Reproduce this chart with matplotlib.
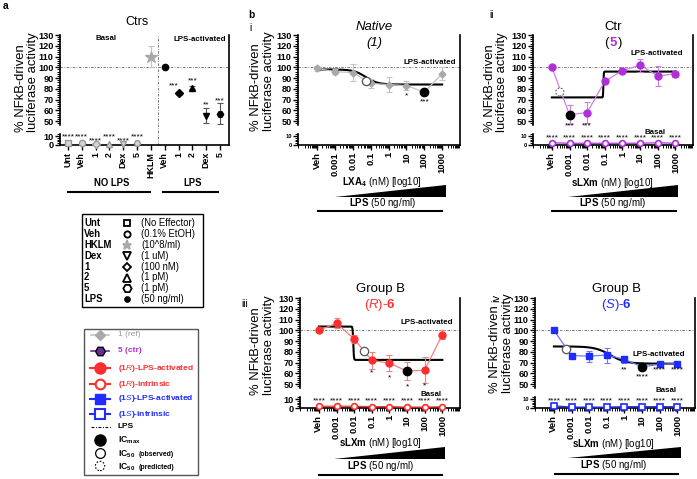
import numpy as np
import matplotlib
matplotlib.use('Agg')
import matplotlib.pyplot as plt
import matplotlib.transforms as mtrans
from matplotlib.lines import Line2D
from matplotlib.patches import Rectangle, Polygon
from matplotlib.ticker import FixedLocator, NullFormatter, LogLocator
from matplotlib import font_manager

_names = {f.name for f in font_manager.fontManager.ttflist}
if 'Liberation Sans Narrow' in _names:
    HF, HS = 'Liberation Sans Narrow', 1.0
else:
    HF, HS = 'Liberation Sans', 0.86
RF = 'Liberation Sans'
plt.rcParams['font.family'] = [HF, 'DejaVu Sans']
plt.rcParams['mathtext.fontset'] = 'custom'
plt.rcParams['mathtext.rm'] = HF
plt.rcParams['mathtext.it'] = HF + ':italic'
plt.rcParams['mathtext.bf'] = HF + ':bold'

# ---------------- DATA ----------------
a_labels = ['Unt', 'Veh', '1', '2', 'Dex', '5', 'HKLM', 'Veh', '1', '2', 'Dex', '5']
a_basal_values = [2.0, 2.5, 1.5, 1.5, 1.5, 2.0]
a_basal_markers = ['s', 'o', 'D', '^', 'v', 'H']
a_basal_star_y = [9, 9.5, 5, 9, 5, 9]
a_hklm_value = 110
a_hklm_error = 10
a_lps_values = [100, 76, 81, 55, 57]
a_lps_errors = [0, 1.5, 1.5, 7, 10]
a_lps_markers = ['o', 'D', '^', 'v', 'H']
a_lps_stars = ['', '***', '***', '**', '***']
a_lps_star_y = [0, 83, 87, 65, 69]

conc_labels = ['Veh', '0.001', '0.01', '0.1', '1', '10', '100', '1000']
conc_values = [1e-4, 1e-3, 1e-2, 1e-1, 1, 10, 100, 1000]

i_lps = [99, 96, 95, 85, 84, 83, 77, 94]
i_lps_err = [2, 2, 8, 4, 7, 4, 0, 6]
i_stars = ['', '', '', '', '', '*', '***', '']
i_star_y = [0, 0, 0, 0, 0, 73, 68, 0]

ii_lps = [100, 56, 58, 87, 97, 102, 92, 94]
ii_lps_err = [0, 9, 10, 0, 2.5, 6, 9, 3]
ii_basal = [2.5, 2, 2, 2, 2, 2, 2.5, 2]
ii_stars = ['', '***', '***', '', '', '', '', '']
ii_star_y = [0, 46, 46, 0, 0, 0, 0, 0]

iii_lps = [100, 106.5, 92, 72, 69.5, 62, 63, 96]
iii_lps_err = [0, 4.5, 4, 8, 7.5, 8.5, 12, 4.5]
iii_basal = [2, 2, 2, 1.5, 1.5, 1, 1, 1.5]
iii_stars = ['', '', '', '*', '*', '*', '*', '']
iii_star_y = [0, 0, 0, 60, 56, 47, 48, 0]

iv_lps = [100, 76.5, 76, 77, 73, 66, 68.5, 69]
iv_lps_err = [0, 1.5, 5, 7, 3, 1.5, 1, 1]
iv_basal = [2.5, 1, 1, 1, 1.5, 1.5, 1.5, 1.5]
iv_stars = ['', '', '', '', '**', '****', '****', '****']
iv_star_y = [0, 0, 0, 0, 63, 57, 63, 63]

basal_star_label = '****'
basal_star_y = 8

# fitted dose-response curves for panels i, ii, iii, iv
fit_value_low_conc = [98, 72, 103.5, 85]
fit_value_high_conc = [84, 96, 72.5, 69]
fit_log_ic50 = [-1.28, -1.08, -2.05, -0.8]
fit_hill = [1.3, 40, 25, 1.0]

# IC markers for panels i, ii, iii, iv
icmax_x = [100, 1e-3, 10, 10]
icmax_y = [77, 56, 62, 66]
ic50_obs_x = [10 ** -1.28, 10 ** -1.45, 10 ** -3.33]   # panels i, iii, iv
ic50_obs_y = [87, 81, 83]
ic50_pred_x = [10 ** -3.55]                          # panel ii
ic50_pred_y = [77]

GRAY = '#A9A9A9'
GRAY_L = '#C4C4C4'
PURPLE = '#B12FD9'
PURPLE_L = '#CF80E8'
RED = '#FF2E2E'
RED_L = '#F48080'
BLUE = '#1F2BFF'
BLUE_L = '#6E78FF'

# ---------------- FIGURE ----------------
W, H = 697, 479
fig = plt.figure(figsize=(W / 100, H / 100), dpi=100)


def rect(l, r, top, bot):
    return [l / W, 1 - bot / H, (r - l) / W, (bot - top) / H]


BX = np.array([-100.0, 0.0, 13.0, 46.0, 130.0, 400.0])
BY = np.array([-90.0, 0.0, 11.7, 20.0, 112.4, 409.4])


def fwd(y):
    return np.interp(y, BX, BY)


def inv(y):
    return np.interp(y, BY, BX)


def broken_y(ax, small_low=False):
    ax.set_yscale('function', functions=(fwd, inv))
    for s in ['top', 'left']:
        ax.spines[s].set_visible(False)
    for s in ['bottom', 'right']:
        ax.spines[s].set_linewidth(1.2)
    majors = [0, 10] + list(range(50, 131, 10))
    minors = [2, 4, 6, 8, 12] + [v for v in range(48, 131, 2) if v % 10]
    ax.yaxis.set_major_locator(FixedLocator(majors))
    ax.yaxis.set_minor_locator(FixedLocator(minors))
    ax.set_yticklabels([str(v) for v in majors], fontweight='bold', fontsize=7.6 * HS)
    if small_low:
        for lab in ax.get_yticklabels()[:2]:
            lab.set_fontsize(4.8 * HS)
    ax.tick_params(axis='y', which='major', length=3.5, width=1.0, pad=1)
    ax.tick_params(axis='y', which='minor', length=2, width=0.7)
    tr = mtrans.blended_transform_factory(ax.transAxes, ax.transData)
    for seg in ([0, 13], [46, 130]):
        ax.add_line(Line2D([0, 0], seg, transform=tr, color='k', lw=1.2, clip_on=False))
    ax.axhline(100, color='#777777', lw=0.7, ls=(0, (2.5, 1.5, 0.8, 1.5)), zorder=1)
    ax.set_ylim(0, 130)


def conc_x(ax):
    ax.set_xscale('log')
    ax.set_xticks(conc_values)
    ax.set_xticklabels(conc_labels, rotation=90, fontweight='bold', fontsize=6.8,
                       family=[RF, 'DejaVu Sans'])
    ax.xaxis.set_minor_locator(LogLocator(base=10, subs=np.arange(2, 10), numticks=50))
    ax.xaxis.set_minor_formatter(NullFormatter())
    ax.tick_params(axis='x', which='major', length=3.5, width=1.0, pad=1.5)
    ax.tick_params(axis='x', which='minor', length=2, width=0.7)
    ax.set_xlim(10 ** -5.07, 10 ** 4.0)


def star_texts(ax, labels, ys, size=7):
    for x, s, y in zip(conc_values, labels, ys):
        if s:
            ax.text(x, y, s, ha='center', va='center', fontsize=size * HS, zorder=6)


def fit_curve(ax, k):
    xs = np.logspace(np.log10(conc_values[0]), np.log10(conc_values[-1]), 800)
    lx = np.log10(xs)
    ys = fit_value_high_conc[k] + (fit_value_low_conc[k] - fit_value_high_conc[k]) / (
        1 + 10 ** ((lx - fit_log_ic50[k]) * fit_hill[k]))
    ax.plot(xs, ys, color='k', lw=1.5, zorder=2.5)


def icmax(ax, k):
    ax.plot(icmax_x[k], icmax_y[k], 'o', ms=6, color='k', zorder=5)


def ic50_obs(ax, k):
    ax.plot(ic50_obs_x[k], ic50_obs_y[k], 'o', ms=6, mfc='white', mec='#555555', mew=0.9, zorder=5)


eb_kw = dict(capsize=2.5, capthick=0.8, elinewidth=0.8, clip_on=False)

# ---------- Panel a ----------
axa = fig.add_axes(rect(60, 229, 35, 145))
broken_y(axa)
axa.set_xticks(range(len(a_labels)))
axa.set_xticklabels(a_labels, rotation=90, fontweight='bold', fontsize=6.4, family=[RF, 'DejaVu Sans'])
axa.tick_params(axis='x', which='major', length=3.5, width=1.0, pad=1.5)
axa.axvline(6.5, color='#777777', lw=0.7, ls=(0, (2.5, 1.5, 0.8, 1.5)), zorder=1)
for k in range(6):
    axa.plot(k, a_basal_values[k], marker=a_basal_markers[k], ms=4.5, mfc='#D6D6D6', mec='#999999',
             mew=1, ls='none', clip_on=False, zorder=4)
    axa.text(k, a_basal_star_y[k], basal_star_label, ha='center', va='center', fontsize=7 * HS)
axa.errorbar(6, a_hklm_value, yerr=a_hklm_error, marker='*', ms=9, color=GRAY_L, mfc=GRAY, mec=GRAY, **eb_kw)
for k in range(5):
    axa.errorbar(7 + k, a_lps_values[k], yerr=a_lps_errors[k], marker=a_lps_markers[k], ms=4.5,
                 color='k', ecolor='#555555', **eb_kw)
    if a_lps_stars[k]:
        axa.text(7 + k - (0.35 if k == 1 else 0), a_lps_star_y[k], a_lps_stars[k], ha='center',
                 va='center', fontsize=7 * HS)
axa.set_xlim(-0.58, 11.65)

# ---------- Panel i ----------
axi = fig.add_axes(rect(298, 460, 35, 145))
broken_y(axi, small_low=True)
conc_x(axi)
axi.errorbar(conc_values, i_lps, yerr=i_lps_err, color=GRAY_L, marker='D', ms=3.5, mfc=GRAY, mec=GRAY,
             lw=0.9, zorder=3, **eb_kw)
fit_curve(axi, 0)
icmax(axi, 0)
ic50_obs(axi, 0)
star_texts(axi, i_stars, i_star_y)

# ---------- Panel ii ----------
axii = fig.add_axes(rect(533, 693, 35, 145))
broken_y(axii, small_low=True)
conc_x(axii)
axii.errorbar(conc_values, ii_lps, yerr=ii_lps_err, color=PURPLE_L, marker='o', ms=5, mfc=PURPLE,
              mec=PURPLE, lw=0.9, zorder=3, **eb_kw)
axii.plot(conc_values, ii_basal, color=PURPLE, marker='o', ms=4.2, mfc='white', mec=PURPLE, mew=1.2,
          lw=0.9, clip_on=False, zorder=3)
fit_curve(axii, 1)
icmax(axii, 1)
axii.scatter(ic50_pred_x, ic50_pred_y, s=34, facecolor='white', edgecolor='#555555', linewidths=0.8,
             linestyle=(0, (1.5, 1.5)), zorder=5)
star_texts(axii, ii_stars, ii_star_y)
star_texts(axii, [basal_star_label] * 8, [basal_star_y] * 8)

# ---------- Panel iii ----------
axiii = fig.add_axes(rect(300, 460, 298, 408))
broken_y(axiii)
conc_x(axiii)
axiii.errorbar(conc_values, iii_lps, yerr=iii_lps_err, color=RED_L, marker='o', ms=5, mfc=RED,
               mec=RED, lw=0.9, zorder=3, **eb_kw)
axiii.plot(conc_values, iii_basal, color=RED, marker='o', ms=4.2, mfc='white', mec=RED, mew=1.2,
           lw=0.9, clip_on=False, zorder=3)
fit_curve(axiii, 2)
icmax(axiii, 2)
ic50_obs(axiii, 1)
star_texts(axiii, iii_stars, iii_star_y)
star_texts(axiii, [basal_star_label] * 8, [basal_star_y] * 8)

# ---------- Panel iv ----------
axiv = fig.add_axes(rect(535, 695, 298, 408))
broken_y(axiv, small_low=True)
conc_x(axiv)
axiv.errorbar(conc_values, iv_lps, yerr=iv_lps_err, color=BLUE_L, marker='s', ms=4.6, mfc=BLUE,
              mec=BLUE, lw=0.9, zorder=3, **eb_kw)
axiv.plot(conc_values, iv_basal, color=BLUE, marker='s', ms=4.2, mfc='white', mec=BLUE, mew=1.2,
          lw=0.9, clip_on=False, zorder=3)
fit_curve(axiv, 3)
icmax(axiv, 3)
ic50_obs(axiv, 2)
star_texts(axiv, iv_stars, iv_star_y)
star_texts(axiv, [basal_star_label] * 8, [basal_star_y] * 8)

# ---------- overlay (annotations, legends) ----------
ov = fig.add_axes([0, 0, 1, 1], zorder=10)
ov.set_xlim(0, W)
ov.set_ylim(H, 0)
ov.axis('off')
ov.patch.set_alpha(0)


def T(x, y, s, size, weight='normal', color='k', style='normal', ha='center', va='center', rot=0,
      fam=None):
    f = fam if fam else HF
    sc = 1.0 if fam else HS
    ov.text(x, y, s, fontsize=size * sc, fontweight=weight, color=color, style=style, ha=ha, va=va,
            rotation=rot, family=[f, 'DejaVu Sans'])


def L(x0, x1, y0, y1, lw=1.5, color='k', ls='-'):
    ov.add_line(Line2D([x0, x1], [y0, y1], lw=lw, color=color, ls=ls))


# panel labels
T(6, 6, 'a', 8.5, 'bold')
T(251, 15, 'b', 8.5, 'bold')
T(250, 28, 'i', 8.5)
T(492, 15, 'ii', 8.5)
T(245, 304, 'iii', 8.5)
T(496, 298, 'iv', 8, rot=90, fam=RF)

# y labels
for (x1, x2, yb) in [(21, 33, 132), (256, 269, 131), (490, 502, 132), (256, 269, 395), (495, 508, 393)]:
    T(x1, yb, '% NFkB-driven', 9.4, va='bottom', rot=90, fam=RF)
    T(x2, yb, 'luciferase activity', 9.4, va='bottom', rot=90, fam=RF)

# titles
T(137, 22, 'Ctrs', 10.5)
T(374, 27, 'Native', 11, style='italic')
T(374, 43, '(1)', 11, style='italic')
T(613, 27, 'Ctr', 11)
T(606, 43, '(', 11)
T(613, 43, '5', 11, 'bold', color=PURPLE)
T(620, 43, ')', 11)
T(380, 289, 'Group B', 11)
T(380, 305, r'($\mathit{R}$)-$\mathbf{6}$', 11, color=RED)
T(616, 289, 'Group B', 11)
T(616, 305, r'($\mathit{S}$)-$\mathbf{6}$', 11, color=BLUE)

# in-panel labels
T(106, 38, 'Basal', 6.6, 'bold')
T(200, 39, 'LPS-activated', 6.6, 'bold')
T(430, 62, 'LPS-activated', 6.6, 'bold')
T(657, 53, 'LPS-activated', 6.6, 'bold')
T(427, 323, 'LPS-activated', 6.6, 'bold')
T(659, 354, 'LPS-activated', 6.6, 'bold')
T(655, 132, 'Basal', 6.6, 'bold')
T(431, 395, 'Basal', 6.6, 'bold')
T(666, 390, 'Basal', 6.6, 'bold')

# panel a group labels
T(112, 183, 'NO LPS', 8, 'bold')
L(68, 150, 192, 192)
T(193, 183, 'LPS', 8, 'bold')
L(163, 218, 192, 192)

# panel b dose labels, wedges, LPS bars
xl = [r'$\mathbf{LXA_4}$ (nM) [log10]', r'$\mathbf{sLXm}$ (nM) [log10]',
      r'$\mathbf{sLXm}$ (nM) [log10]', r'$\mathbf{sLXm}$ (nM) [log10]']
geo = [(382, 182, 335, 446, 197, 185, 203, 318, 442, 211),
       (612, 183, 568, 678, 197, 185, 203, 552, 676, 211),
       (380, 443, 334, 445, 459, 447, 466, 319, 442, 475),
       (613, 444, 568, 681, 458, 447, 465, 555, 678, 474)]
for s, (cx, ly, w0, w1, wb, wt, py, l0, l1, lyy) in zip(xl, geo):
    T(cx, ly, s, 8.2)
    ov.add_patch(Polygon([(w0, wb), (w1, wb), (w1, wt)], closed=True, color='k', lw=0))
    T(cx, py, r'$\mathbf{LPS}$ (50 ng/ml)', 8.2)
    L(l0, l1, lyy, lyy)

# legend 1
ov.add_patch(Rectangle((82, 214), 121, 93, fill=False, lw=1, ec='k'))
leg1_names = ['Unt', 'Veh', 'HKLM', 'Dex', '1', '2', '5', 'LPS']
leg1_desc = ['(No Effector)', '(0.1% EtOH)', '(10^8/ml)', '(1 uM)', '(100 nM)', '(1 pM)', '(1 pM)',
             '(50 ng/ml)']
leg1_mk = [('s', 5, 'none', 'k'), ('o', 4.5, 'none', 'k'), ('*', 6.5, GRAY, GRAY), ('v', 5.5, 'none', 'k'),
           ('D', 4.5, 'none', 'k'), ('^', 5.5, 'none', 'k'), ('H', 6, 'none', 'k'), ('o', 3.5, 'k', 'k')]
for r, (nm, ds, mk) in enumerate(zip(leg1_names, leg1_desc, leg1_mk)):
    y = 223 + 10.9 * r
    T(84, y, nm, 8, 'bold', ha='left')
    T(141, y, ds, 8, ha='left')
    ov.plot(127, y, marker=mk[0], ms=mk[1], mfc=mk[2], mec=mk[3], mew=1.3, ls='none')

# legend 2
ov.add_patch(Rectangle((84, 329), 114, 146, fill=False, lw=1, ec='#555555'))
ly2 = [335, 351, 368, 384, 399, 414, 427, 440, 453, 466]
ov.plot([91, 109], [ly2[0]] * 2, color=GRAY_L, lw=1.2)
ov.plot(100, ly2[0], marker='D', ms=5, color=GRAY)
T(118, ly2[0], '1 (ref)', 7, color='#9A9A9A', ha='left')
ov.plot([91, 109], [ly2[1]] * 2, color='#6B2C9E', lw=1.2)
ov.plot(100, ly2[1], marker='H', ms=7, mfc='#6B2C9E', mec='k', mew=1)
T(118, ly2[1], '5 (ctr)', 7, 'bold', color=PURPLE, ha='left')
ov.plot([90, 110], [ly2[2]] * 2, color=RED, lw=1.5)
ov.plot(100, ly2[2], marker='o', ms=8, color=RED)
T(118, ly2[2], r'(1$\mathit{R}$)-LPS-activated', 7, 'bold', color=RED, ha='left')
ov.plot([90, 110], [ly2[3]] * 2, color=RED, lw=1.5)
ov.plot(100, ly2[3], marker='o', ms=7, mfc='white', mec=RED, mew=1.5)
T(118, ly2[3], r'(1$\mathit{R}$)-intrinsic', 7, 'bold', color=RED, ha='left')
ov.plot([90, 110], [ly2[4]] * 2, color=BLUE, lw=1.5)
ov.plot(100, ly2[4], marker='s', ms=7, color=BLUE)
T(118, ly2[4], r'(1$\mathit{S}$)-LPS-activated', 7, 'bold', color=BLUE, ha='left')
ov.plot([90, 110], [ly2[5]] * 2, color=BLUE, lw=1.5)
ov.plot(100, ly2[5], marker='s', ms=7, mfc='white', mec=BLUE, mew=1.5)
T(118, ly2[5], r'(1$\mathit{S}$)-intrinsic', 7, 'bold', color=BLUE, ha='left')
ov.plot([91, 112], [ly2[6]] * 2, color='k', lw=0.8, ls=(0, (2.5, 1.5, 0.8, 1.5)))
T(118, ly2[6], 'LPS', 7, 'bold', ha='left')
ov.plot(100, ly2[7], marker='o', ms=8, color='k')
T(118, ly2[7], r'IC$_{\mathbf{max}}$', 7.2, 'bold', ha='left')
ov.plot(100, ly2[8], marker='o', ms=7, mfc='white', mec='k', mew=0.9)
T(118, ly2[8] + 1, r'IC$_{\mathbf{50}}$', 7.2, 'bold', ha='left')
T(139, ly2[8] + 1.5, '(observed)', 5.8, 'bold', ha='left')
ov.scatter([100], [ly2[9]], s=45, facecolor='white', edgecolor='k', linewidths=0.8, linestyle=(0, (1.5, 1.5)))
T(118, ly2[9] + 1, r'IC$_{\mathbf{50}}$', 7.2, 'bold', ha='left')
T(139, ly2[9] + 1.5, '(predicted)', 5.8, 'bold', ha='left')

fig.savefig('out.png', dpi=100)
